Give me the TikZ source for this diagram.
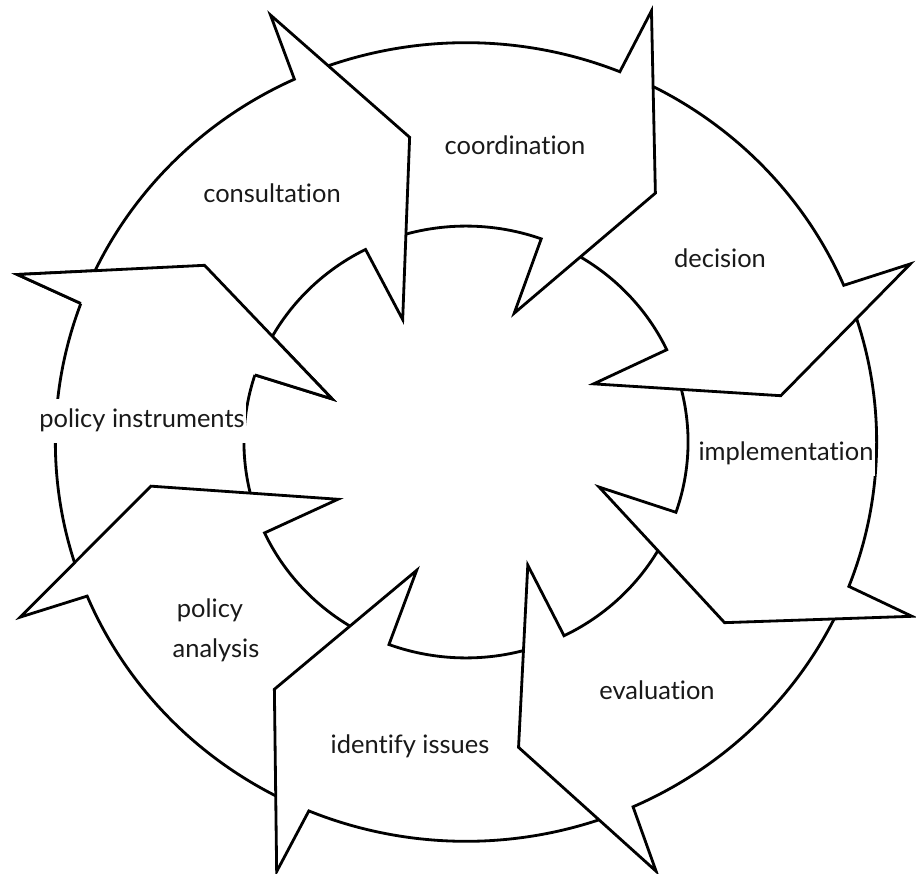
\documentclass[tikz,border=0pt]{standalone}
\usepackage{fontspec}
\setmainfont{Lato}[Ligatures={NoCommon,NoContextual}]
\newcommand{\arrw}[2]{%
  \filldraw[fill=white] (#2:405) arc[start angle=#2, end angle=#1, radius=405]
    -- ({#1-0.7}:474) -- ({#1-14.5}:314) -- ({#1+2}:139) -- ({#1+2.2}:219)
    arc[start angle={#1+2.2}, end angle=#2, radius=219];}
\newcommand{\arrhead}[1]{%
  \fill[white] (#1:405) -- ({#1-0.7}:474) -- ({#1-14.5}:314) -- ({#1+2}:139) -- ({#1+2.2}:219) -- cycle;
  \draw (#1:405) -- ({#1-0.7}:474) -- ({#1-14.5}:314) -- ({#1+2}:139) -- ({#1+2.2}:219);}
\begin{document}
\begin{tikzpicture}[x=0.02cm,y=0.02cm,line width=1.6pt,line join=miter,
  lbl/.style={font=\fontsize{14.5}{17}\selectfont,anchor=base,inner sep=0pt,text=black!90},
  gaplbl/.style={lbl,fill=white,inner xsep=1pt,inner ysep=6pt}]
\useasboundingbox (0,0) rectangle (916,873);
\fill[white] (0,0) rectangle (916,873);
\begin{scope}[shift={(466,431)},xscale=1.014,yscale=0.986]
  \arrw{159.7}{200.7}   % policy instruments
  \arrw{-157.3}{-114.5} % policy analysis
  \arrw{-112.5}{-68}    % identify issues
  \arrw{-66}{-23.2}     % evaluation
  \arrw{-21.2}{21.1}    % implementation
  \arrw{23.1}{66}       % decision
  \arrw{68}{112.7}      % coordination
  \arrw{114.7}{157.7}   % consultation
  \arrhead{159.7}
\end{scope}
\node[lbl] (consultation) at (272,670) {consultation};
\node[lbl] (coordination) at (515,718) {coordination};
\node[lbl] (decision) at (720,605) {decision};
\node[gaplbl] (implementation) at (786,412) {implementation};
\node[lbl] (evaluation) at (657,174) {evaluation};
\node[lbl] (identify) at (410,120) {identify issues};
\node[lbl] (policy) at (210,256) {policy};
\node[lbl] (analysis) at (216,216) {analysis};
\node[gaplbl] (instruments) at (142,445) {policy instruments};
\end{tikzpicture}
\end{document}
